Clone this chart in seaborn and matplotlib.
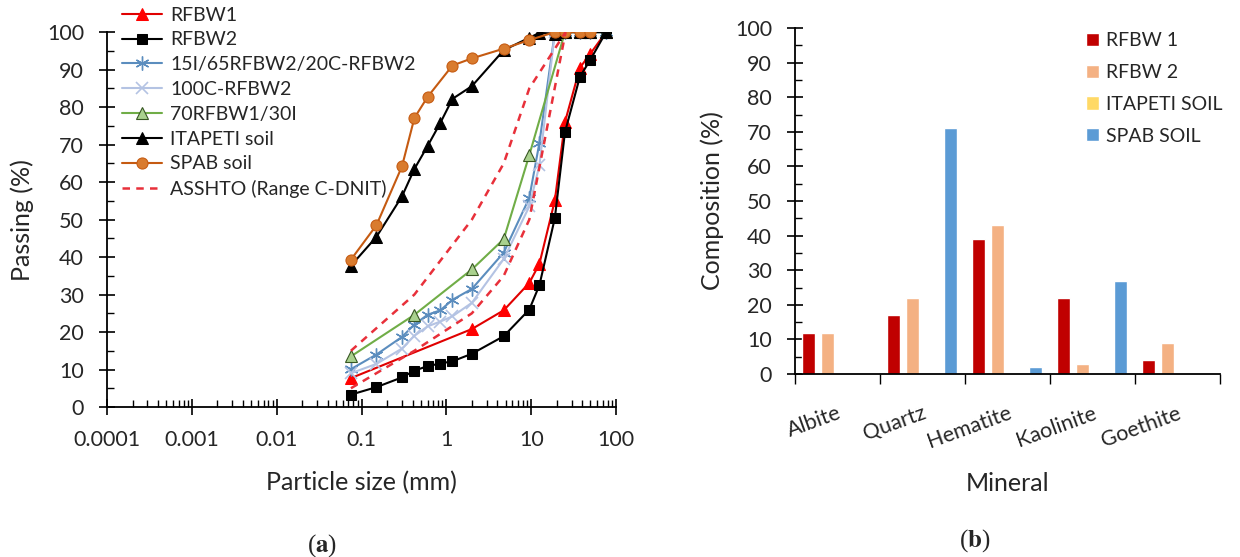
import matplotlib
matplotlib.use('Agg')
import matplotlib.pyplot as plt
import matplotlib.ticker as mticker
import pandas as pd
import seaborn as sns

# --- grading curves (a) ---
rfbw1_x = [0.075, 2, 4.75, 9.5, 12.5, 19, 25, 37.5, 50, 76.2]
rfbw1_y = [7.7, 20.8, 25.8, 33.1, 38.2, 55.1, 76.0, 90.5, 94.3, 100]

rfbw2_x = [0.075, 0.15, 0.3, 0.42, 0.6, 0.85, 1.18, 2, 4.75, 9.5, 12.5, 19, 25, 37.5, 50, 76.2]
rfbw2_y = [3.3, 5.3, 7.9, 9.7, 10.9, 11.6, 12.2, 14.2, 18.9, 26.0, 32.5, 50.4, 73.3, 88.1, 92.7, 100]

mix15_x = [0.075, 0.15, 0.3, 0.42, 0.6, 0.85, 1.18, 2, 4.75, 9.5, 12.5, 19, 25, 37.5, 50, 76.2]
mix15_y = [10.1, 14.0, 18.7, 22.0, 24.6, 25.8, 28.6, 31.5, 41.2, 55.8, 70.5, 100, 100, 100, 100, 100]

c100_x = [0.075, 0.15, 0.3, 0.42, 0.6, 0.85, 1.18, 2, 4.75, 9.5, 12.5, 19, 25, 37.5, 50, 76.2]
c100_y = [9.0, 11.5, 15.6, 19.0, 21.5, 22.8, 24.2, 27.8, 39.5, 53.5, 64.5, 100, 100, 100, 100, 100]

mix70_x = [0.075, 0.42, 2, 4.75, 9.5, 25, 37.5, 50, 76.2]
mix70_y = [13.5, 24.6, 36.7, 44.8, 67.2, 100, 100, 100, 100]

itapeti_x = [0.075, 0.15, 0.3, 0.42, 0.6, 0.85, 1.18, 2, 4.75, 9.5, 12.5, 19, 25, 37.5, 50, 76.2]
itapeti_y = [37.7, 45.4, 56.2, 63.5, 69.6, 75.8, 82.2, 85.6, 95.2, 98.5, 99.8, 99.6, 100, 100, 100, 100]

spab_x = [0.075, 0.15, 0.3, 0.42, 0.6, 1.18, 2, 4.75, 9.5, 19, 25, 37.5, 50]
spab_y = [39.3, 48.5, 64.2, 77.1, 82.7, 91.1, 93.0, 95.6, 97.9, 100, 100, 100, 100]

asshto_x = [0.075, 0.42, 2, 4.75, 9.5, 25.4]
asshto_upper = [15, 30, 50, 65, 85, 100]
asshto_lower = [5, 15, 25, 35, 50, 100]

size_ticks = [0.0001, 0.001, 0.01, 0.1, 1, 10, 100]

# --- mineral composition (b) ---
minerals = ['Albite', 'Quartz', 'Hematite', 'Kaolinite', 'Goethite']
comp_rfbw1 = [12, 17, 39, 22, 4]
comp_rfbw2 = [12, 22, 43, 3, 9]
comp_itapeti = [0, 0, 0, 0, 0]
comp_spab = [0, 71, 2, 27, 0]
samples = ['RFBW 1', 'RFBW 2', 'ITAPETI SOIL', 'SPAB SOIL']
bar_colors = ['#C00000', '#F4B183', '#FFD966', '#5B9BD5']

sns.set_style('ticks')
plt.rcParams['font.family'] = ['Lato', 'DejaVu Sans']
plt.rcParams['mathtext.fontset'] = 'stix'

fig = plt.figure(figsize=(12.4, 5.57), dpi=100)
ax1 = fig.add_axes([0.0863, 0.2693, 0.4105, 0.673])
ax2 = fig.add_axes([0.641, 0.3285, 0.3427, 0.6212])

series = [
    ('RFBW1', rfbw1_x, rfbw1_y, dict(color='#E00000', marker='^', ms=8, mfc='#FF0000', mec='#FF0000')),
    ('RFBW2', rfbw2_x, rfbw2_y, dict(color='black', marker='s', ms=7, mfc='black', mec='black')),
    ('15I/65RFBW2/20C-RFBW2', mix15_x, mix15_y, dict(color='#5B8DBE', marker=(6, 2, 0), ms=10, mfc='none', mec='#5B8DBE', markeredgewidth=1.0)),
    ('100C-RFBW2', c100_x, c100_y, dict(color='#B4C3E3', marker='x', ms=8, mfc='none', mec='#B4C3E3', markeredgewidth=1.2)),
    ('70RFBW1/30I', mix70_x, mix70_y, dict(color='#70AD47', marker='^', ms=9, mfc='#A9D18E', mec='#385723', markeredgewidth=0.8)),
    ('ITAPETI soil', itapeti_x, itapeti_y, dict(color='black', marker='^', ms=8, mfc='black', mec='black')),
    ('SPAB soil', spab_x, spab_y, dict(color='#C55A11', marker='o', ms=8, mfc='#D97B2E', mec='#C55A11')),
]

for name, xs, ys, style in series:
    sns.lineplot(x=xs, y=ys, ax=ax1, label=name, lw=1.5, sort=False, estimator=None, **style)

sns.lineplot(x=asshto_x, y=asshto_upper, ax=ax1, color='#E8303A', lw=1.8, ls=(0, (3, 2.5)),
             sort=False, estimator=None, label='ASSHTO (Range C-DNIT)')
sns.lineplot(x=asshto_x, y=asshto_lower, ax=ax1, color='#E8303A', lw=1.8, ls=(0, (3, 2.5)),
             sort=False, estimator=None, label='_nolegend_')

ax1.set_xscale('log')
ax1.set_xlim(0.0001, 100)
ax1.set_ylim(0, 100)
ax1.xaxis.set_major_locator(mticker.FixedLocator(size_ticks))
ax1.xaxis.set_major_formatter(mticker.FuncFormatter(lambda v, p: '{:g}'.format(v)))
ax1.xaxis.set_minor_locator(mticker.LogLocator(base=10, subs=range(2, 10), numticks=100))
ax1.xaxis.set_minor_formatter(mticker.NullFormatter())
ax1.yaxis.set_major_locator(mticker.MultipleLocator(10))
ax1.yaxis.set_minor_locator(mticker.MultipleLocator(5))
ax1.set_xlabel('Particle size (mm)', fontsize=18, labelpad=15)
ax1.set_ylabel('Passing (%)', fontsize=18, labelpad=9)
sns.despine(ax=ax1)

handles, labels = ax1.get_legend_handles_labels()
ax1.legend(handles, labels, loc='upper left', bbox_to_anchor=(0.098, 0.988), bbox_transform=fig.transFigure,
           frameon=False, fontsize=14, handlelength=2.1, handletextpad=0.4, labelspacing=0.4,
           borderaxespad=0, borderpad=0)

# bars
df_comp = pd.DataFrame({
    'Mineral': minerals * 4,
    'Sample': [s for s in samples for _ in minerals],
    'Composition': comp_rfbw1 + comp_rfbw2 + comp_itapeti + comp_spab,
})
sns.barplot(data=df_comp, x='Mineral', y='Composition', hue='Sample', palette=bar_colors,
            width=0.894, gap=0.32, ax=ax2, saturation=1, legend=True)
ax2.set_xlim(-0.5, 4.5)
ax2.set_ylim(0, 100)
ax2.yaxis.set_major_locator(mticker.MultipleLocator(10))
ax2.yaxis.set_minor_locator(mticker.MultipleLocator(5))
ax2.xaxis.set_minor_locator(mticker.FixedLocator([-0.5, 0.5, 1.5, 2.5, 3.5, 4.5]))
ax2.set_xlabel('Mineral', fontsize=18, labelpad=14)
ax2.set_ylabel('Composition (%)', fontsize=18, labelpad=8)
sns.despine(ax=ax2)
ax2.legend(loc='upper left', bbox_to_anchor=(0.876, 0.942), bbox_transform=fig.transFigure,
           frameon=False, fontsize=14, handlelength=0.67, handleheight=0.67,
           handletextpad=0.35, labelspacing=0.76, borderaxespad=0, borderpad=0)

for ax in (ax1, ax2):
    for s in ('left', 'bottom'):
        ax.spines[s].set_color('black')
        ax.spines[s].set_linewidth(1.3)
    ax.tick_params(which='major', direction='inout', length=11, width=1.2, color='black', labelsize=15.5)
    ax.tick_params(which='minor', direction='in', length=5, width=1.0, color='black')
    ax.tick_params(axis='y', which='major', pad=11)
ax1.tick_params(axis='x', which='major', pad=11)
ax2.tick_params(axis='x', which='major', length=0, pad=21)
ax2.tick_params(axis='x', which='minor', length=7, direction='out')
for lab in ax2.get_xticklabels():
    lab.set_rotation(20)
    lab.set_ha('right')
    lab.set_rotation_mode('anchor')

fig.text(0.26, 0.01, r'($\mathbf{a}$)', ha='center', fontsize=18, family=['Liberation Serif', 'DejaVu Serif'])
fig.text(0.786, 0.018, r'($\mathbf{b}$)', ha='center', fontsize=18, family=['Liberation Serif', 'DejaVu Serif'])

fig.savefig('out.png', dpi=100)
